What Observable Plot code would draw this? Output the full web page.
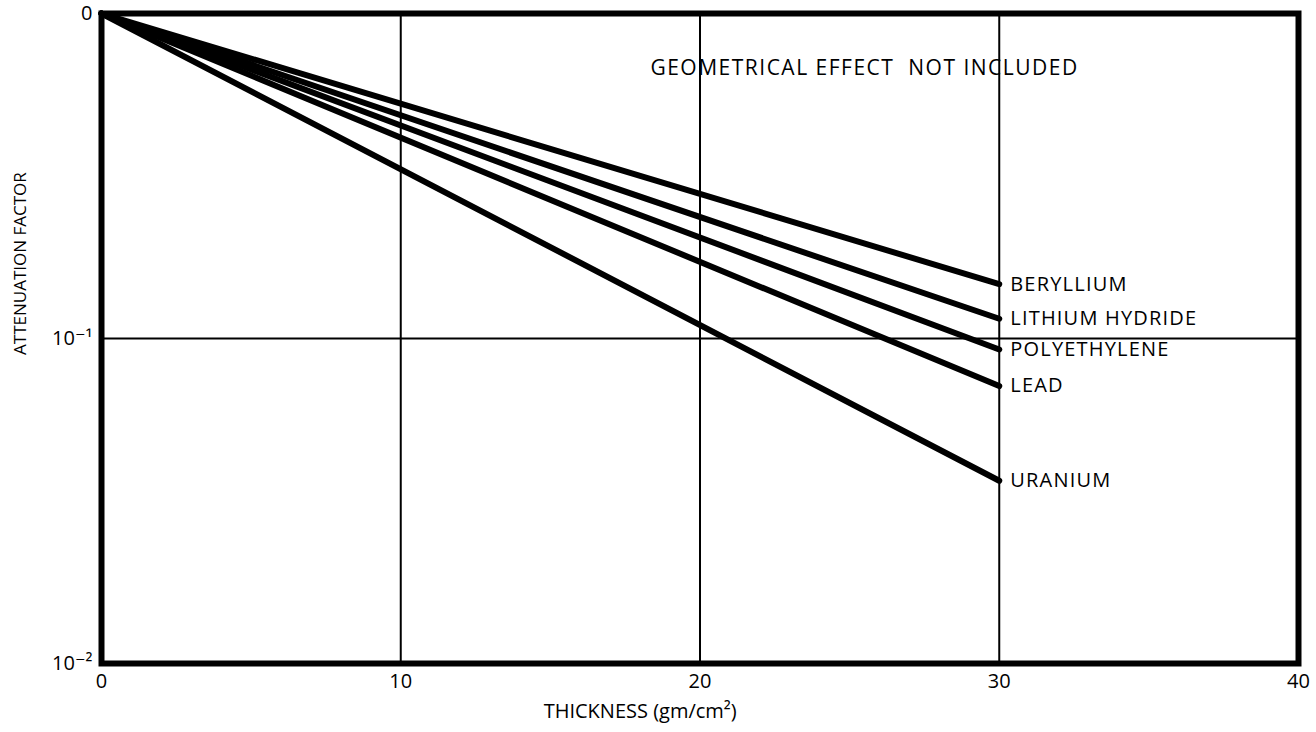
<!DOCTYPE html>
<html>
<head>
<meta charset="utf-8">
<script src="https://cdn.jsdelivr.net/npm/d3@7"></script>
<script src="https://cdn.jsdelivr.net/npm/@observablehq/plot@0.6"></script>
<style>
  html, body { margin: 0; padding: 0; background: #fff; }
  #chart { width: 1316px; height: 732px; }
</style>
</head>
<body>
<div id="chart"></div>
<script>
// ---- data ----
const xTicks = [0, 10, 20, 30, 40];
const yTicks = [0.01, 0.1, 1];
const yTickLabels = ["10⁻²", "10⁻¹", "0"];
const gridX = [10, 20, 30];
const gridY = [0.1];
const materials = ["BERYLLIUM", "LITHIUM HYDRIDE", "POLYETHYLENE", "LEAD", "URANIUM"];
const startThickness = 0;
const startFactor = 1;
const endThickness = 30;
const endFactor = [0.147, 0.115, 0.0925, 0.0714, 0.0365];
const noteText = ["GEOMETRICAL EFFECT  NOT INCLUDED"];
const noteX = [25.5];
const noteY = [0.68];
const xTitle = "THICKNESS (gm/cm²)";
const xTitleAt = 18;
const yTitle = "ATTENUATION FACTOR";
const yTitleAt = 0.17;

// ---- build tables ----
const lineData = [];
materials.forEach((m, i) => {
  lineData.push({material: m, x: startThickness, y: startFactor});
  lineData.push({material: m, x: endThickness, y: endFactor[i]});
});
const endData = materials.map((m, i) => ({material: m, x: endThickness, y: endFactor[i]}));
const noteData = noteText.map((t, i) => ({t, x: noteX[i], y: noteY[i]}));
const yLabelMap = new Map(yTicks.map((v, i) => [v, yTickLabels[i]]));

const font = "'Open Sans', 'DejaVu Sans', sans-serif";

const chart = Plot.plot({
  width: 1316,
  height: 732,
  marginLeft: 101,
  marginRight: 18,
  marginTop: 13,
  marginBottom: 69,
  style: {fontFamily: font, color: "#000", background: "#fff"},
  x: {domain: [0, 40]},
  y: {type: "log", domain: [0.01, 1]},
  marks: [
    Plot.ruleX(gridX, {stroke: "#000", strokeWidth: 2}),
    Plot.ruleY(gridY, {stroke: "#000", strokeWidth: 2}),
    Plot.line(lineData, {x: "x", y: "y", z: "material", stroke: "#000", strokeWidth: 6, strokeLinecap: "round"}),
    Plot.text(endData, {x: "x", y: "y", text: "material", dx: 11, textAnchor: "start", fontSize: 20, fill: "#000"}),
    Plot.text(noteData, {x: "x", y: "y", text: "t", fontSize: 21, fill: "#000"}),
    Plot.axisX({ticks: xTicks, tickSize: 0, tickPadding: 10, label: null}),
    Plot.axisY({ticks: yTicks, tickFormat: d => yLabelMap.get(d) ?? "", tickSize: 0, tickPadding: 9, label: null}),
    Plot.text([xTitle], {x: xTitleAt, frameAnchor: "bottom", dy: 54, fontSize: 20, fill: "#000"}),
    Plot.text([yTitle], {y: yTitleAt, frameAnchor: "left", dx: -81, rotate: -90, textAnchor: "middle", fontSize: 17, fill: "#000"}),
    Plot.frame({stroke: "#000", strokeWidth: 6})
  ]
});
// typographic touches: larger tick labels and letter spacing
chart.querySelectorAll("g[aria-label$='tick label']").forEach(g => {
  g.setAttribute("font-size", 20);
  g.style.fontSize = "20px";
});
chart.querySelectorAll("text").forEach(t => {
  if (t.textContent.startsWith("GEOMETRICAL")) t.style.letterSpacing = "1.5px";
  if (materials.includes(t.textContent)) t.style.letterSpacing = "1.2px";
});
document.getElementById("chart").appendChild(chart);
</script>
</body>
</html>
